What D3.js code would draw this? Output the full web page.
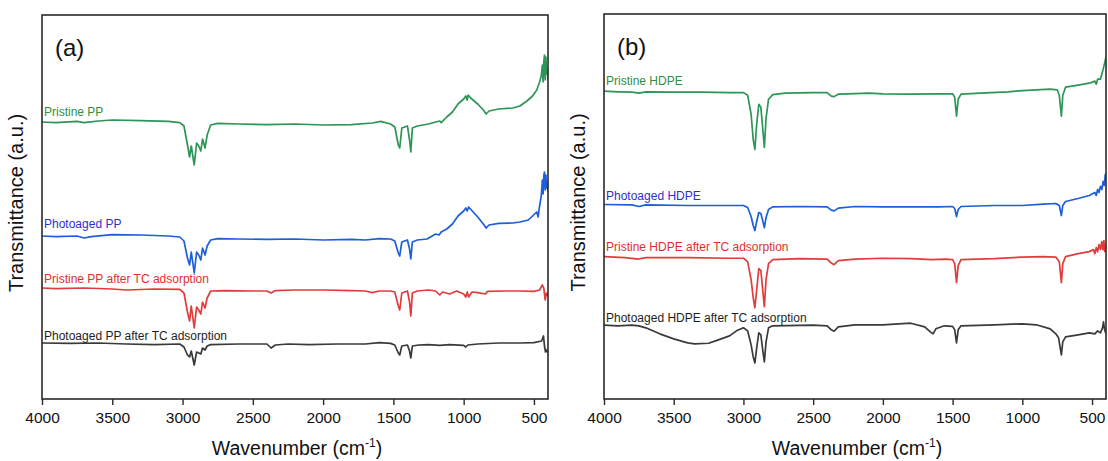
<!DOCTYPE html>
<html>
<head>
<meta charset="utf-8">
<script src="https://cdn.jsdelivr.net/npm/d3@7"></script>
<style>
  html, body { margin: 0; padding: 0; background: #fff; }
  svg { display: block; font-family: "Liberation Sans", Arial, sans-serif; }
</style>
</head>
<body>
<svg id="chart" width="1108" height="461"></svg>
<script>
// FTIR spectra: [wavenumber (cm-1), transmittance (a.u., offset per trace)]
const ppPristine = [
  [4000,69.25],[3900,69.1],[3750,69.4],[3700,69.1],[3600,69.5],[3500,69.75],[3300,69.6],[3100,69.4],
  [3020,69.1],[2990,68.25],[2965,63.5],[2950,60.5],[2938,63.25],[2917,58.5],[2900,64],[2885,63.25],
  [2870,62],[2858,65],[2840,62.75],[2825,66],[2800,68.5],[2750,68.9],[2600,68.75],[2400,68.6],
  [2200,68.75],[2000,68.5],[1800,68.6],[1650,69],[1590,69.4],[1520,68.75],[1490,68],[1465,63.5],
  [1455,62.75],[1440,67.75],[1400,68.25],[1385,64.75],[1376,61.75],[1365,67.75],[1330,68.25],
  [1250,68.75],[1200,69.25],[1170,69.5],[1160,69.1],[1120,70.5],[1080,71.75],[1040,73.75],[1000,75],
  [985,75.75],[975,74.75],[968,76],[950,75.25],[900,73.75],[860,72.25],[840,71.25],[820,72],
  [750,72.5],[650,72.75],[600,73.25],[550,74.5],[510,75.75],[480,77.25],[460,79.25],[448,80.75],
  [440,83.5],[435,79.25],[430,84.25],[425,86],[420,79.75],[415,85.5],[410,81.25],[405,82.25],[400,79.75]
];
const ppPhotoaged = [
  [4000,40.75],[3900,40.6],[3750,40.75],[3700,40.25],[3650,40.6],[3500,41.1],[3300,41],[3100,40.75],
  [3020,40.5],[2990,39.5],[2965,35.25],[2950,33.5],[2938,36.75],[2917,31.5],[2900,36.75],[2885,36],
  [2870,34.75],[2858,37.75],[2840,36],[2825,38.25],[2800,39.75],[2750,40.1],[2600,40],[2400,39.9],
  [2200,40],[2000,39.75],[1800,39.9],[1700,39.75],[1600,40.1],[1520,40],[1490,39.5],[1465,36.5],
  [1455,35.75],[1440,39.25],[1400,39.75],[1385,37.5],[1376,35],[1365,39.25],[1330,39.75],[1260,40],
  [1200,41.25],[1175,41],[1160,41.75],[1120,42.5],[1080,43.75],[1040,45.75],[1000,47],[985,47.75],
  [975,47],[965,48],[945,47.25],[900,45.5],[860,43.75],[840,42.75],[820,43.5],[750,43.9],[650,44],
  [600,44.25],[540,44.75],[510,45.75],[480,46.75],[470,45.5],[460,48.25],[448,50.75],[440,54.75],
  [435,51.25],[430,55.75],[425,56.75],[420,52.25],[415,56],[410,52.75],[405,54.25],[400,51.75]
];
const ppPristineTC = [
  [4000,27.75],[3900,27.6],[3700,27.75],[3500,27.5],[3400,27.25],[3200,27.5],[3020,27.4],[2990,26.5],
  [2965,21.75],[2950,19.5],[2938,23.25],[2917,17.75],[2900,23],[2885,22.25],[2870,21.25],[2858,24.25],
  [2840,22.75],[2825,25.25],[2800,27],[2700,27.1],[2500,27],[2400,27],[2370,26.5],[2340,27.1],
  [2200,27.25],[2000,27.25],[1800,27.1],[1700,27],[1650,26.6],[1600,27],[1520,27],[1490,26.75],
  [1465,23.25],[1455,22.25],[1440,26.5],[1400,27],[1385,24.25],[1376,20.75],[1365,26.5],[1330,27],
  [1250,27.25],[1200,27],[1170,26],[1150,26.75],[1100,26.25],[1050,27],[1000,26.25],[985,25.5],
  [975,26.75],[965,25.5],[940,26.75],[900,26.6],[845,26.25],[830,26.9],[700,27],[600,27],[500,26.9],
  [460,27.25],[440,28.5],[430,27.75],[420,24.75],[412,26.5],[400,25.75]
];
const ppPhotoagedTC = [
  [4000,14],[3800,13.9],[3600,14],[3400,13.75],[3200,13.6],[3020,13.75],[2990,13],[2965,11],
  [2950,10.5],[2938,12],[2917,8.5],[2900,11.75],[2885,11.5],[2870,11.25],[2858,12.75],[2840,12.25],
  [2825,13.25],[2800,13.6],[2600,13.75],[2400,13.75],[2370,12.75],[2340,13.5],[2250,13.75],
  [2100,13.6],[1900,13.75],[1700,13.75],[1600,14.1],[1520,13.9],[1490,13.5],[1465,11.5],[1455,11],
  [1440,13.25],[1400,13.5],[1385,12],[1376,10.25],[1365,13.25],[1320,13.5],[1250,13.6],[1170,13.4],
  [1100,13.6],[1000,13.4],[985,13],[970,13.5],[900,13.75],[750,14],[600,14],[500,14.1],[445,14.5],
  [432,15.75],[425,13.25],[418,11.75],[410,12.25],[400,11.5]
];

const hdpePristine = [
  [4000,76.75],[3900,76.6],[3800,76.5],[3750,76.25],[3700,76.6],[3500,76.5],[3300,76.5],[3100,76.4],
  [3000,76.4],[2970,75.75],[2945,71],[2930,64.75],[2918,62.25],[2905,68.5],[2890,73.5],[2875,72.75],
  [2862,67.5],[2850,62.75],[2838,70],[2820,74.75],[2790,75.9],[2700,76.25],[2500,76.4],[2400,76.4],
  [2370,75.5],[2350,75.4],[2320,76],[2250,76.1],[2100,76.25],[2000,76.1],[1800,76],[1600,76.1],
  [1500,76.1],[1485,75.25],[1472,70.5],[1460,74.75],[1440,76],[1300,76.25],[1100,76.6],[1000,76.9],
  [900,77.1],[800,77.25],[750,77.1],[735,75.75],[720,70.5],[710,75.75],[690,77.75],[600,78.25],
  [520,78.75],[480,79.25],[470,78.5],[460,79.75],[440,79.75],[430,81],[420,82.25],[410,83.75],[400,85.25]
];
const hdpePhotoaged = [
  [4000,48.5],[3800,48.4],[3750,48],[3700,48.4],[3400,48.25],[3100,48.25],[3000,48.25],[2970,47.75],
  [2945,45.5],[2930,43.25],[2918,42],[2905,44.25],[2890,46.5],[2875,46.25],[2862,44.5],[2850,42.75],
  [2838,45.25],[2820,47.25],[2790,47.9],[2600,48],[2400,47.9],[2370,47.1],[2350,46.9],[2320,47.6],
  [2200,48],[2000,47.9],[1800,47.9],[1600,47.9],[1500,48],[1485,47.5],[1472,45.5],[1460,47.25],
  [1440,48],[1200,48.25],[1000,48.25],[850,48.6],[760,48.75],[735,48.25],[720,45.75],[710,48.25],
  [690,49.25],[600,50],[520,50.75],[480,51.5],[470,50.75],[460,52.25],[450,51.5],[440,53],[430,52.25],
  [420,54.25],[412,53.25],[405,56],[400,54.75]
];
const hdpePristineTC = [
  [4000,35.5],[3850,35.25],[3750,34.9],[3700,35.25],[3400,35.25],[3100,35.1],[3000,35.1],[2970,34.25],
  [2945,29.75],[2930,25.25],[2918,22.75],[2905,27.25],[2890,32.5],[2875,32],[2862,27.25],[2850,23],
  [2838,29.75],[2820,33.75],[2790,34.75],[2600,35],[2400,34.9],[2370,33.9],[2350,33.5],[2320,34.5],
  [2200,34.9],[2000,35.1],[1800,35],[1650,34.75],[1550,34.9],[1500,34.75],[1485,33.75],[1472,29],
  [1460,33.25],[1440,34.75],[1200,35],[1000,35.4],[850,35.5],[760,35.4],[735,34.25],[720,29],
  [710,33.75],[690,35.5],[600,36.25],[520,36.75],[490,37.25],[480,36.25],[470,37.75],[460,36.75],
  [450,38.5],[440,37.25],[430,39.25],[422,37.25],[415,39.5],[408,36.75],[400,38.25]
];
const hdpePhotoagedTC = [
  [4000,18.4],[3900,18.25],[3800,18.4],[3750,18.25],[3700,17.75],[3600,16.25],[3500,15],[3400,14],
  [3350,13.75],[3250,13.9],[3200,14.5],[3100,15.75],[3050,17],[3000,17.75],[2970,17],[2945,13.5],
  [2930,10.5],[2918,9],[2905,12.75],[2890,16.5],[2875,16],[2862,12.25],[2850,9.25],[2838,14.25],
  [2820,17.75],[2790,18.25],[2500,18.4],[2400,18.25],[2370,17.25],[2350,16.9],[2320,18],[2200,18.5],
  [2000,18.5],[1800,18.9],[1700,18],[1660,16.75],[1640,16.25],[1620,17.5],[1560,18.25],[1500,18.1],
  [1485,17.25],[1472,14],[1460,17.25],[1440,18.25],[1200,18.5],[1000,18.75],[900,18.5],[800,17.5],
  [760,16.25],[740,15.25],[720,11],[710,14.25],[690,15.5],[600,16],[520,16.5],[480,16.25],[460,17],
  [440,16.5],[425,17.75],[418,19.25],[410,17.25],[400,16.25]
];

const xTicks = [4000, 3500, 3000, 2500, 2000, 1500, 1000, 500];
const ppNames = ["Pristine PP", "Photoaged PP", "Pristine PP after TC adsorption", "Photoaged PP after TC adsorption"];
const hdpeNames = ["Pristine HDPE", "Photoaged HDPE", "Pristine HDPE after TC adsorption", "Photoaged HDPE after TC adsorption"];
const lineColors = ["#2b9656", "#1d5fd8", "#e23b3b", "#3a3a3a"];
const labelColors = ["#2f8f3f", "#2f2fcf", "#e0302c", "#1e1e1e"];
// label anchor: transmittance value just above each trace start
const ppLabelY = [70.75, 42.75, 29, 14.75];
const hdpeLabelY = [78.25, 49.5, 37, 19.25];

const svg = d3.select("#chart");

function drawPanel(opt) {
  const { left, right, top, bottom, tag, series, names, labelY } = opt;
  const x = d3.scaleLinear().domain([4000, 400]).range([left, right]);
  const y = d3.scaleLinear().domain([0, 96]).range([bottom, top]);
  const g = svg.append("g");

  const clipId = "clip-" + tag;
  g.append("clipPath").attr("id", clipId)
    .append("rect").attr("x", left).attr("y", top)
    .attr("width", right - left).attr("height", bottom - top);

  const line = d3.line().x(d => x(d[0])).y(d => y(d[1]));
  const plot = g.append("g").attr("clip-path", `url(#${clipId})`);
  series.forEach((s, i) => {
    plot.append("path").datum(s)
      .attr("fill", "none").attr("stroke", lineColors[i])
      .attr("stroke-width", 1.7).attr("stroke-linejoin", "round")
      .attr("d", line);
  });

  names.forEach((n, i) => {
    g.append("text").attr("x", left + 2).attr("y", y(labelY[i]))
      .attr("fill", labelColors[i]).attr("font-size", 12).text(n);
  });

  // frame
  g.append("rect").attr("x", left).attr("y", top)
    .attr("width", right - left).attr("height", bottom - top)
    .attr("fill", "none").attr("stroke", "#2a2a2a").attr("stroke-width", 1.6);

  const axis = d3.axisBottom(x).tickValues(xTicks).tickSize(6).tickPadding(7).tickFormat(d3.format("d"));
  const ax = g.append("g").attr("transform", `translate(0,${bottom})`).call(axis);
  ax.select(".domain").remove();
  ax.selectAll(".tick line").attr("stroke", "#2a2a2a").attr("stroke-width", 1.4);
  ax.selectAll(".tick text").attr("font-size", 15.5).attr("fill", "#111")
    .attr("font-family", "Liberation Sans, Arial, sans-serif");

  g.append("text").attr("x", left + 13).attr("y", top + 41)
    .attr("font-size", 24).attr("fill", "#111").text(`(${tag})`);

  const xl = g.append("text").attr("x", (left + right) / 2 + 2).attr("y", 455)
    .attr("text-anchor", "middle").attr("font-size", 19.5).attr("fill", "#111");
  xl.append("tspan").text("Wavenumber (cm");
  xl.append("tspan").attr("dy", -8).attr("font-size", 12).text("-1");
  xl.append("tspan").attr("dy", 8).text(")");

  g.append("text").attr("transform", `translate(${left - 19},${(top + bottom) / 2 - 4}) rotate(-90)`)
    .attr("text-anchor", "middle").attr("font-size", 20).attr("fill", "#111")
    .text("Transmittance (a.u.)");
}

drawPanel({ left: 42, right: 548, top: 15, bottom: 399, tag: "a",
  series: [ppPristine, ppPhotoaged, ppPristineTC, ppPhotoagedTC], names: ppNames, labelY: ppLabelY });
drawPanel({ left: 604, right: 1106, top: 14, bottom: 399, tag: "b",
  series: [hdpePristine, hdpePhotoaged, hdpePristineTC, hdpePhotoagedTC], names: hdpeNames, labelY: hdpeLabelY });
</script>
</body>
</html>
